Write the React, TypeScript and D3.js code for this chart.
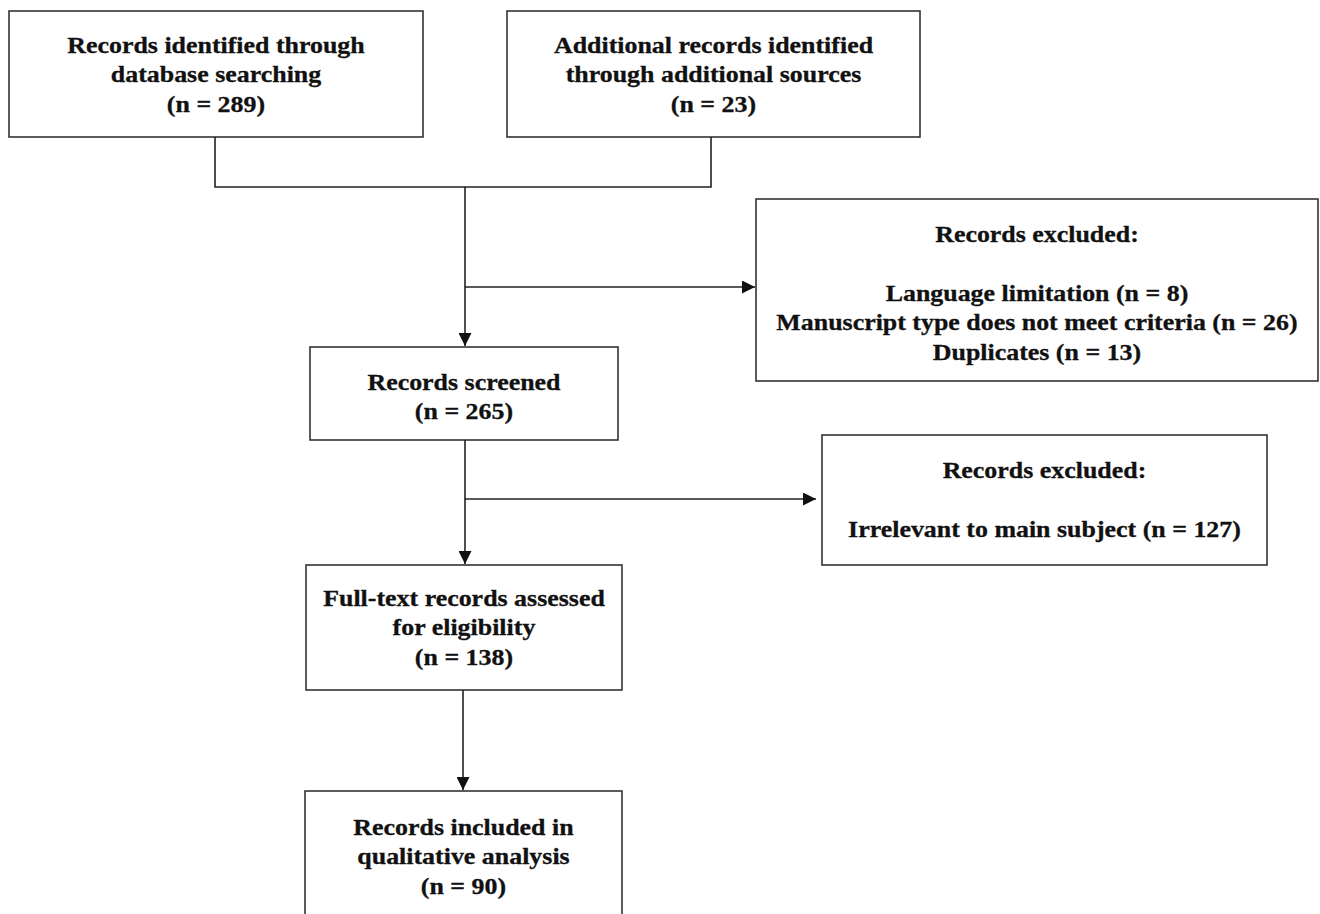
import React, { useEffect, useRef } from 'react';
import * as d3 from 'd3';

// counts per stage
const identifiedCounts = [289, 23];
const screenedCount = 265;
const fullTextCount = 138;
const includedCount = 90;

// exclusions
const firstExclusionReasons = ['Language limitation', 'Manuscript type does not meet criteria', 'Duplicates'];
const firstExclusionCounts = [8, 26, 13];
const secondExclusionReasons = ['Irrelevant to main subject'];
const secondExclusionCounts = [127];

type Box = { id: string; x: number; y: number; w: number; h: number; top: number; lines: string[] };

const WIDTH = 1320;
const HEIGHT = 914;
const LINE = 29.5;
const FONT = 24;
const STRETCH = 1.08; // source text is a bit wider than plain Times

const App = () => {
  const ref = useRef<SVGSVGElement>(null);

  useEffect(() => {
    const svg = d3.select(ref.current);
    svg.selectAll('*').remove();

    const n = (v: number) => `(n = ${v})`;

    const boxes: Box[] = [
      { id: 'db', x: 9, y: 11, w: 414, h: 126, top: 45, lines: ['Records identified through', 'database searching', n(identifiedCounts[0])] },
      { id: 'other', x: 507, y: 11, w: 413, h: 126, top: 45, lines: ['Additional records identified', 'through additional sources', n(identifiedCounts[1])] },
      {
        id: 'ex1', x: 756, y: 199, w: 562, h: 182, top: 234,
        lines: ['Records excluded:', '', ...firstExclusionReasons.map((r, i) => `${r} ${n(firstExclusionCounts[i])}`)],
      },
      { id: 'screened', x: 310, y: 347, w: 308, h: 93, top: 382, lines: ['Records screened', n(screenedCount)] },
      {
        id: 'ex2', x: 822, y: 435, w: 445, h: 130, top: 470,
        lines: ['Records excluded:', '', ...secondExclusionReasons.map((r, i) => `${r} ${n(secondExclusionCounts[i])}`)],
      },
      { id: 'full', x: 306, y: 565, w: 316, h: 125, top: 598, lines: ['Full-text records assessed', 'for eligibility', n(fullTextCount)] },
      { id: 'inc', x: 305, y: 791, w: 317, h: 150, top: 827, lines: ['Records included in', 'qualitative analysis', n(includedCount)] },
    ];

    svg.append('defs')
      .append('marker')
      .attr('id', 'arrow')
      .attr('viewBox', '0 0 10 10')
      .attr('refX', 10)
      .attr('refY', 5)
      .attr('markerWidth', 13)
      .attr('markerHeight', 13)
      .attr('markerUnits', 'userSpaceOnUse')
      .attr('orient', 'auto')
      .append('path')
      .attr('d', 'M0,0L10,5L0,10Z')
      .attr('fill', '#111');

    const g = svg.append('g');

    g.selectAll('rect')
      .data(boxes)
      .join('rect')
      .attr('x', d => d.x)
      .attr('y', d => d.y)
      .attr('width', d => d.w)
      .attr('height', d => d.h)
      .attr('fill', '#fff')
      .attr('stroke', '#333')
      .attr('stroke-width', 1.6);

    const txt = g.selectAll('text.lbl')
      .data(boxes)
      .join('text')
      .attr('class', 'lbl')
      .attr('font-family', '"Liberation Serif", "Times New Roman", serif')
      .attr('font-weight', 'bold')
      .attr('font-size', FONT)
      .attr('fill', '#111')
      .attr('stroke', '#111')
      .attr('stroke-width', 0.3)
      .attr('text-anchor', 'middle')
      .attr('transform', d => {
        const cx = d.x + d.w / 2;
        return `translate(${cx},0) scale(${STRETCH},1) translate(${-cx},0)`;
      });

    txt.each(function (d) {
      const t = d3.select(this);
      d.lines.forEach((line, i) => {
        t.append('tspan')
          .attr('x', d.x + d.w / 2)
          .attr('y', d.top + i * LINE + 8)
          .text(line);
      });
    });

    const line = d3.line<[number, number]>();
    const links: { pts: [number, number][]; arrow: boolean }[] = [
      { pts: [[215, 137], [215, 187], [711, 187], [711, 137]], arrow: false },
      { pts: [[465, 187], [465, 346]], arrow: true },
      { pts: [[465, 287], [755, 287]], arrow: true },
      { pts: [[465, 440], [465, 564]], arrow: true },
      { pts: [[465, 499], [816, 499]], arrow: true },
      { pts: [[463, 690], [463, 790]], arrow: true },
    ];

    g.selectAll('path.link')
      .data(links)
      .join('path')
      .attr('class', 'link')
      .attr('d', d => line(d.pts))
      .attr('fill', 'none')
      .attr('stroke', '#222')
      .attr('stroke-width', 1.6)
      .attr('marker-end', d => (d.arrow ? 'url(#arrow)' : null));
  }, []);

  return (
    <svg
      ref={ref}
      width={WIDTH}
      height={HEIGHT}
      style={{ position: 'absolute', left: 0, top: 0, background: '#fff' }}
    />
  );
};

export default App;
